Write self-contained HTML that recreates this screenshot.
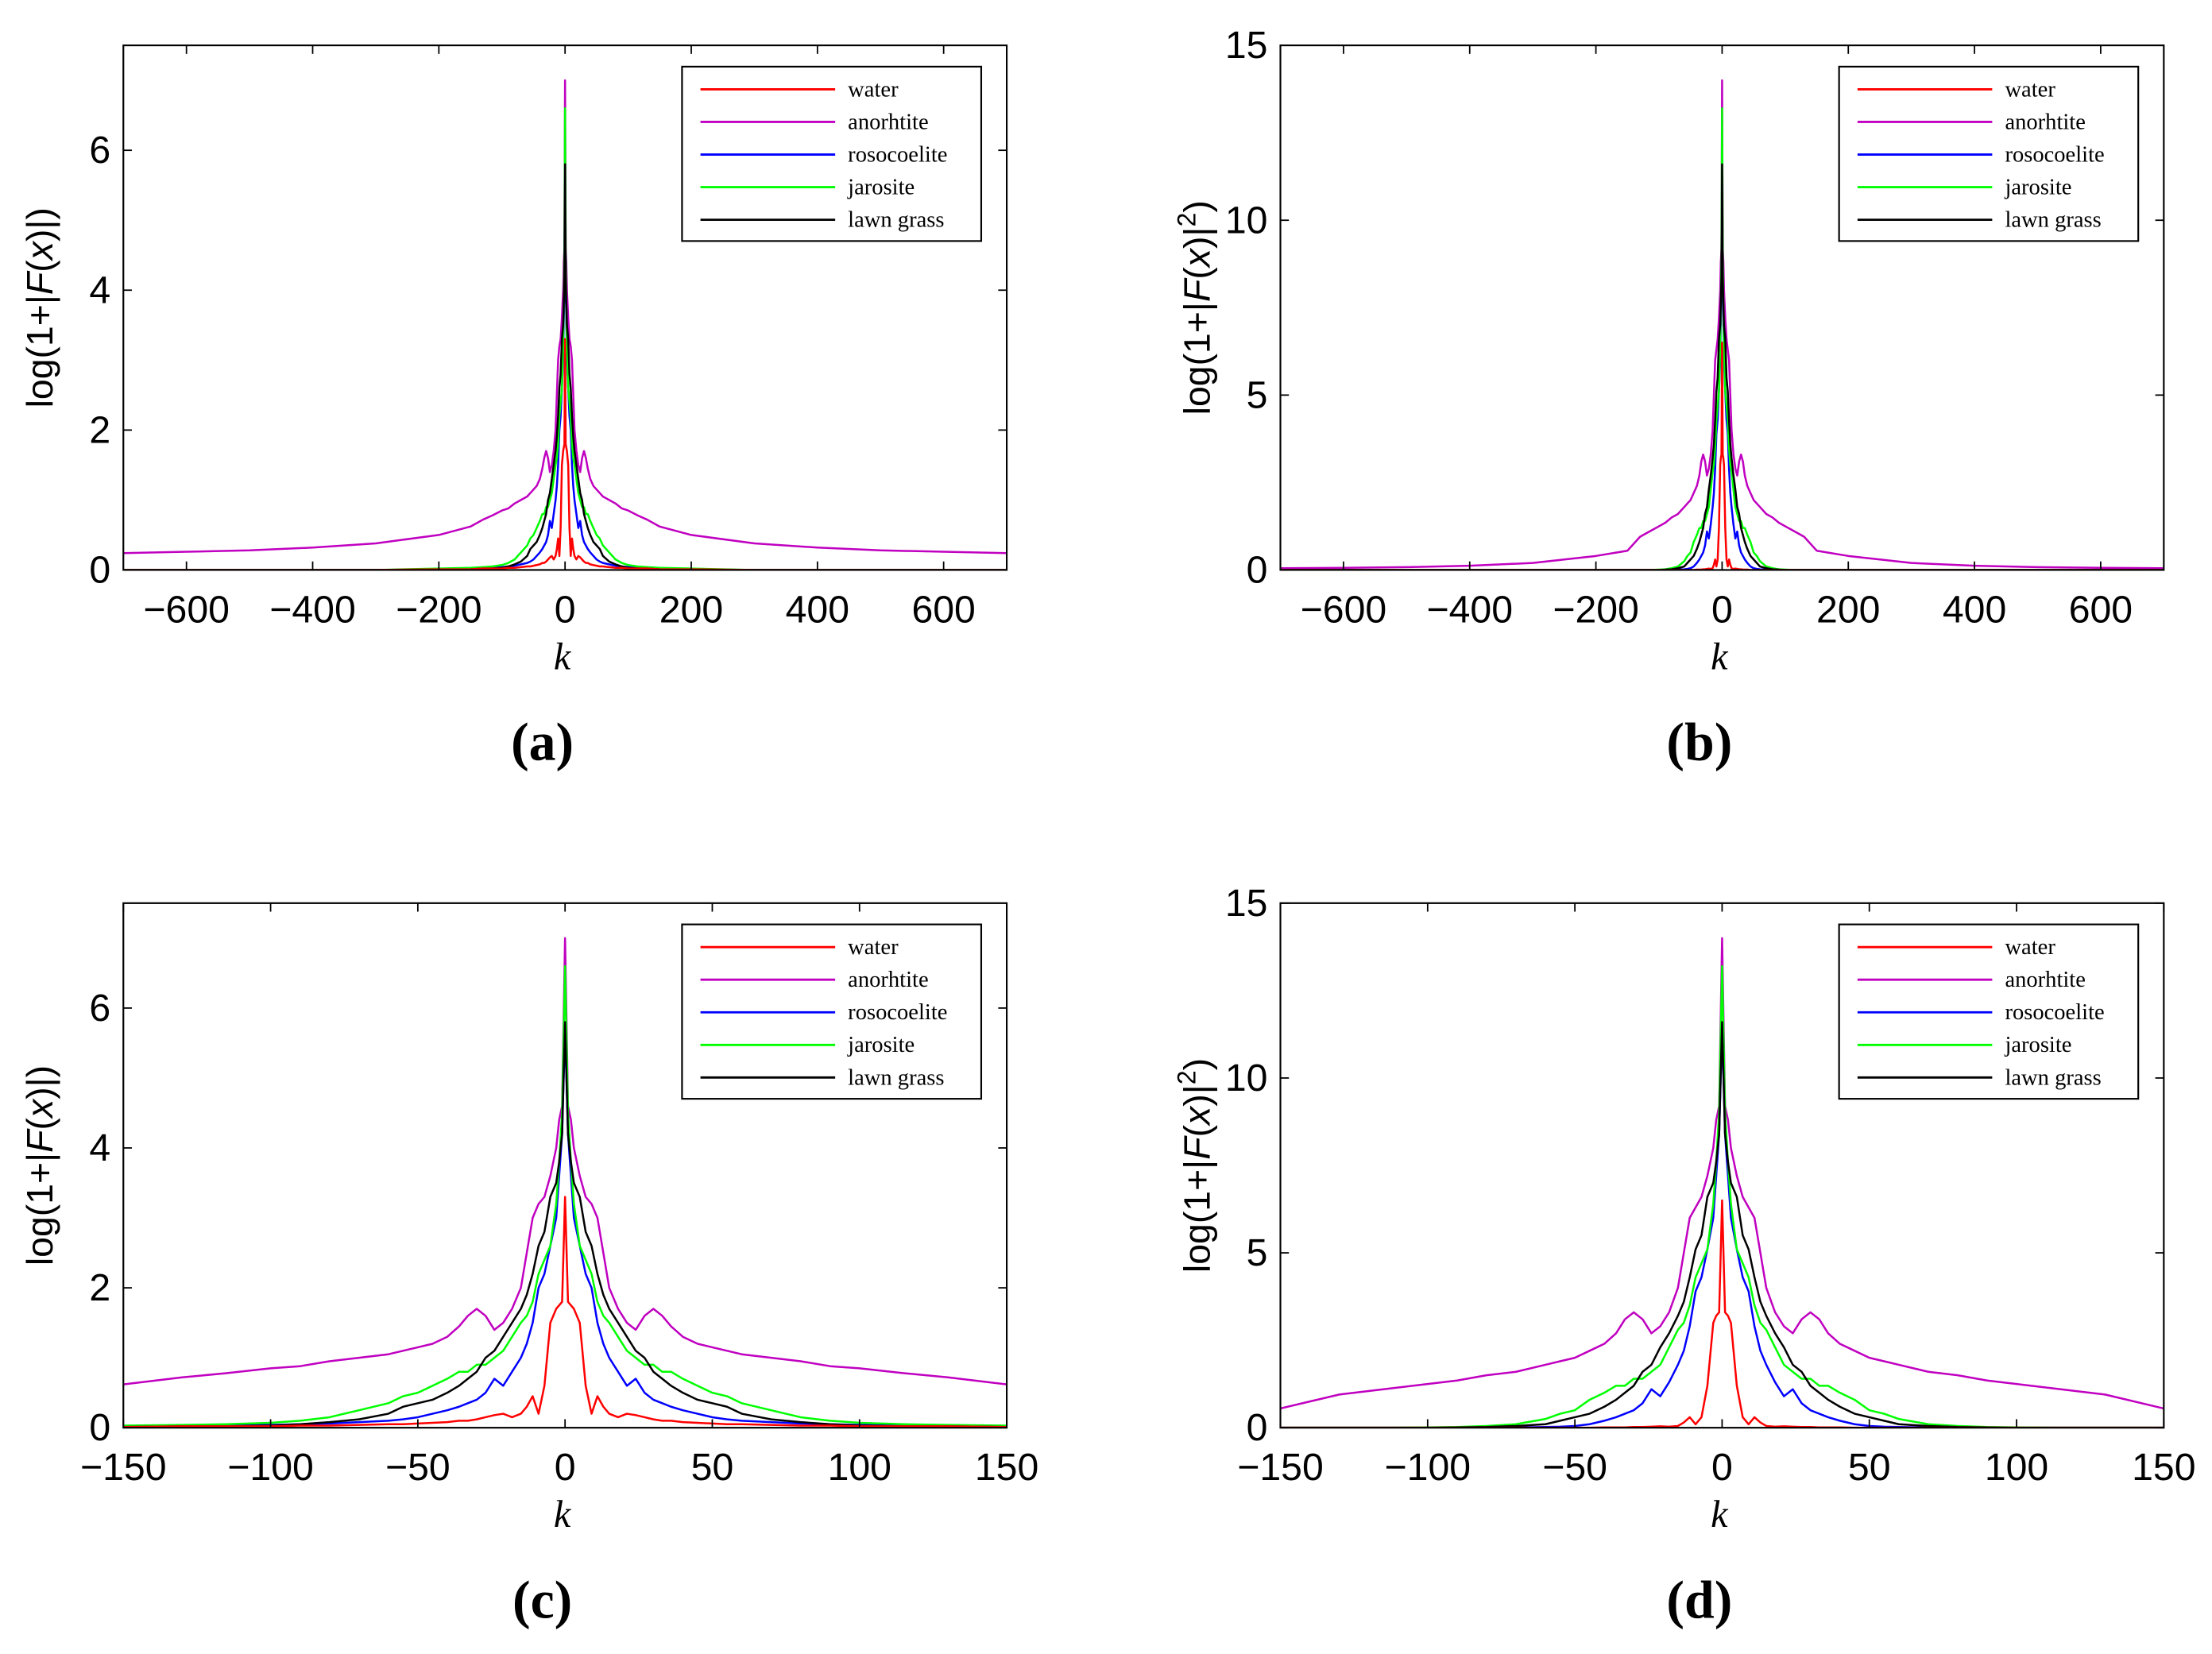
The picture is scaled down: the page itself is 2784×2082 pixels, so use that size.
<!DOCTYPE html>
<html><head><meta charset="utf-8">
<style>
html,body{margin:0;padding:0;background:#fff;}
svg{display:block;}
text{font-family:"Liberation Sans",sans-serif;}
.serif{font-family:"Liberation Serif",serif;}
</style></head>
<body>
<svg id="fig" width="2784" height="2082" viewBox="0 0 1560 1166.6" preserveAspectRatio="none" xmlns="http://www.w3.org/2000/svg"></svg>
<script>
// positive-side k samples (spectra are symmetric; mirrored for negative k)
const K = [0,1,2,3,5,7,9,11,13,15,18,21,24,27,30,33,36,40,45,50,55,60,70,80,90,100,115,130,150,200,300,400,500,600,700];
// log(1+|F(x)|)
const water1 = [3.3,1.8,1.75,1.7,1.5,0.6,0.2,0.45,0.3,0.2,0.15,0.2,0.18,0.15,0.12,0.1,0.1,0.08,0.07,0.06,0.05,0.05,0.04,0.03,0.03,0.02,0.02,0.02,0.01,0.01,0,0,0,0,0];
const anor1 = [7.0,4.6,4.4,4.0,3.6,3.3,3.2,3.0,2.5,2.0,1.7,1.5,1.4,1.6,1.7,1.6,1.45,1.3,1.2,1.15,1.1,1.05,1.0,0.95,0.88,0.85,0.78,0.72,0.62,0.5,0.38,0.32,0.28,0.26,0.24];
const roso1 = [5.7,4.2,3.6,3.0,2.6,2.2,2.0,1.5,1.2,1.0,0.8,0.6,0.7,0.5,0.4,0.35,0.3,0.25,0.2,0.15,0.12,0.1,0.08,0.06,0.05,0.04,0.03,0.03,0.02,0.01,0,0,0,0,0];
const jaro1 = [6.6,4.5,3.8,3.2,2.6,2.4,2.2,1.8,1.6,1.5,1.3,1.1,1.0,0.9,0.9,0.8,0.8,0.7,0.6,0.5,0.45,0.35,0.25,0.15,0.1,0.07,0.05,0.04,0.03,0.02,0,0,0,0,0];
const lawn1 = [5.8,4.2,3.8,3.5,3.3,2.8,2.6,2.2,1.9,1.7,1.5,1.3,1.1,1.0,0.8,0.7,0.6,0.5,0.4,0.35,0.3,0.2,0.12,0.08,0.05,0.03,0.02,0.02,0.01,0,0,0,0,0,0];
// log(1+|F(x)|^2)
const water2 = [6.5,3.3,3.2,3.0,1.2,0.3,0.1,0.3,0.15,0.05,0.03,0.04,0.03,0.02,0.02,0.01,0.01,0.01,0,0,0,0,0,0,0,0,0,0,0,0,0,0,0,0,0];
const anor2 = [14,9.2,8.8,8.0,7.2,6.6,6.3,6.0,5.0,4.0,3.3,2.9,2.7,3.1,3.3,3.1,2.7,2.4,2.2,2.0,1.9,1.8,1.6,1.5,1.35,1.25,1.1,0.95,0.55,0.4,0.2,0.12,0.08,0.06,0.05];
const roso2 = [11.4,8.4,7.2,6.0,5.1,4.3,3.9,2.9,2.2,1.8,1.3,0.9,1.1,0.7,0.5,0.4,0.3,0.2,0.1,0.05,0.03,0.02,0.01,0,0,0,0,0,0,0,0,0,0,0,0];
const jaro2 = [13.2,9.0,7.6,6.4,5.1,4.7,4.3,3.5,3.0,2.8,2.3,1.8,1.6,1.4,1.4,1.2,1.2,1.0,0.8,0.5,0.4,0.25,0.1,0.05,0.02,0.01,0,0,0,0,0,0,0,0,0];
const lawn2 = [11.6,8.4,7.6,7.0,6.6,5.5,5.1,4.3,3.6,3.2,2.7,2.3,1.8,1.6,1.2,1.0,0.8,0.6,0.4,0.3,0.2,0.1,0.05,0.02,0.01,0,0,0,0,0,0,0,0,0,0];
const seriesNames = ["water","anorhtite","rosocoelite","jarosite","lawn grass"];
const seriesColors = ["#ff0000","#c000c0","#0000ff","#00ff00","#000000"];
const xTicksWide = [-600,-400,-200,0,200,400,600];
const xTicksZoom = [-150,-100,-50,0,50,100,150];
const yTicks1 = [0,2,4,6];
const yTicks2 = [0,5,10,15];

const NS="http://www.w3.org/2000/svg";
const svg=document.getElementById('fig');
function mk(tag,attrs,parent){const e=document.createElementNS(NS,tag);for(const k in attrs)e.setAttribute(k,attrs[k]);(parent||svg).appendChild(e);return e;}

const panels=[
 {id:"a",x0:87,x1:710,y0:32,y1:402,xmin:-700,xmax:700,ymax:7.5,xt:xTicksWide,yt:yTicks1,data:[water1,anor1,roso1,jaro1,lawn1],sq:false},
 {id:"b",x0:903,x1:1526,y0:32,y1:402,xmin:-700,xmax:700,ymax:15,xt:xTicksWide,yt:yTicks2,data:[water2,anor2,roso2,jaro2,lawn2],sq:true},
 {id:"c",x0:87,x1:710,y0:637,y1:1007,xmin:-150,xmax:150,ymax:7.5,xt:xTicksZoom,yt:yTicks1,data:[water1,anor1,roso1,jaro1,lawn1],sq:false},
 {id:"d",x0:903,x1:1526,y0:637,y1:1007,xmin:-150,xmax:150,ymax:15,xt:xTicksZoom,yt:yTicks2,data:[water2,anor2,roso2,jaro2,lawn2],sq:true}
];

panels.forEach(p=>{
  const g=mk('g',{});
  
  
  const sx=v=>p.x0+(v-p.xmin)/(p.xmax-p.xmin)*(p.x1-p.x0);
  const sy=v=>p.y1-v/p.ymax*(p.y1-p.y0);
  const cid='clip'+p.id;
  const cp=mk('clipPath',{id:cid},g);
  mk('rect',{x:p.x0,y:p.y0,width:p.x1-p.x0,height:p.y1-p.y0},cp);
  const plot=mk('g',{'clip-path':'url(#'+cid+')'},g);
  const order=[1,2,3,4,0];
  order.forEach(si=>{
    const vals=p.data[si];
    const pts=[];
    for(let i=K.length-1;i>=0;i--) pts.push(sx(-K[i]).toFixed(2)+','+sy(vals[i]).toFixed(2));
    for(let i=1;i<K.length;i++) pts.push(sx(K[i]).toFixed(2)+','+sy(vals[i]).toFixed(2));
    const pl=mk('polyline',{points:pts.join(' '),fill:'none',stroke:seriesColors[si],'stroke-width':1.4,'stroke-linejoin':'round'},plot);
    
    
  });
  const box=mk('rect',{x:p.x0,y:p.y0,width:p.x1-p.x0,height:p.y1-p.y0,fill:'none',stroke:'#000','stroke-width':1.2},g);
  
  
  p.xt.forEach(t=>{
    const x=sx(t);
    mk('line',{x1:x,x2:x,y1:p.y1,y2:p.y1-6,stroke:'#000','stroke-width':1},g);
    mk('line',{x1:x,x2:x,y1:p.y0,y2:p.y0+6,stroke:'#000','stroke-width':1},g);
    const tx=mk('text',{x:x,y:p.y1+37,'font-size':27,'text-anchor':'middle'},g);
    tx.textContent=(t<0?'\u2212'+(-t):String(t));
    
    
  });
  p.yt.forEach(t=>{
    const y=sy(t);
    mk('line',{x1:p.x0,x2:p.x0+6,y1:y,y2:y,stroke:'#000','stroke-width':1},g);
    mk('line',{x1:p.x1,x2:p.x1-6,y1:y,y2:y,stroke:'#000','stroke-width':1},g);
    const ty=mk('text',{x:p.x0-9,y:y+9,'font-size':27,'text-anchor':'end'},g);
    ty.textContent=String(t);
    
    
  });
  const xl=mk('text',{x:(p.x0+p.x1)/2-2,y:p.y1+70,'font-size':27,'font-style':'italic','text-anchor':'middle',class:'serif'},g);
  xl.textContent='k';
  
  
  const ycx=p.x0-50, ycy=(p.y0+p.y1)/2;
  const yl=mk('text',{x:ycx,y:ycy,'font-size':26,'text-anchor':'middle',transform:'rotate(-90 '+ycx+' '+ycy+')'},g);
  
  
  if(p.sq){
    yl.innerHTML='log(1+|<tspan font-style="italic">F</tspan>(<tspan font-style="italic">x</tspan>)|<tspan dy="-10" font-size="18">2</tspan><tspan dy="10">)</tspan>';
  } else {
    yl.innerHTML='log(1+|<tspan font-style="italic">F</tspan>(<tspan font-style="italic">x</tspan>)|)';
  }
  const lx=p.x0+397-3, ly=p.y0+15;
  const lg=mk('g',{},g);
  
  
  mk('rect',{x:lx,y:ly,width:211,height:123,fill:'#fff',stroke:'#000','stroke-width':1.2},lg);
  seriesNames.forEach((n,i)=>{
    const yy=ly+16+i*23;
    const e=mk('g',{},lg);
    
    
    mk('line',{x1:lx+13,x2:lx+108,y1:yy,y2:yy,stroke:seriesColors[i],'stroke-width':1.6},e);
    const t=mk('text',{x:lx+117,y:yy+5,'font-size':16,class:'serif'},e);
    t.textContent=n;
  });
  const cap=mk('text',{x:(p.x0+p.x1)/2-16,y:p.y1+134,'font-size':38,'font-weight':'bold','text-anchor':'middle',class:'serif'},g);
  cap.textContent='('+p.id+')';
  
  
});
</script>
</body></html>
